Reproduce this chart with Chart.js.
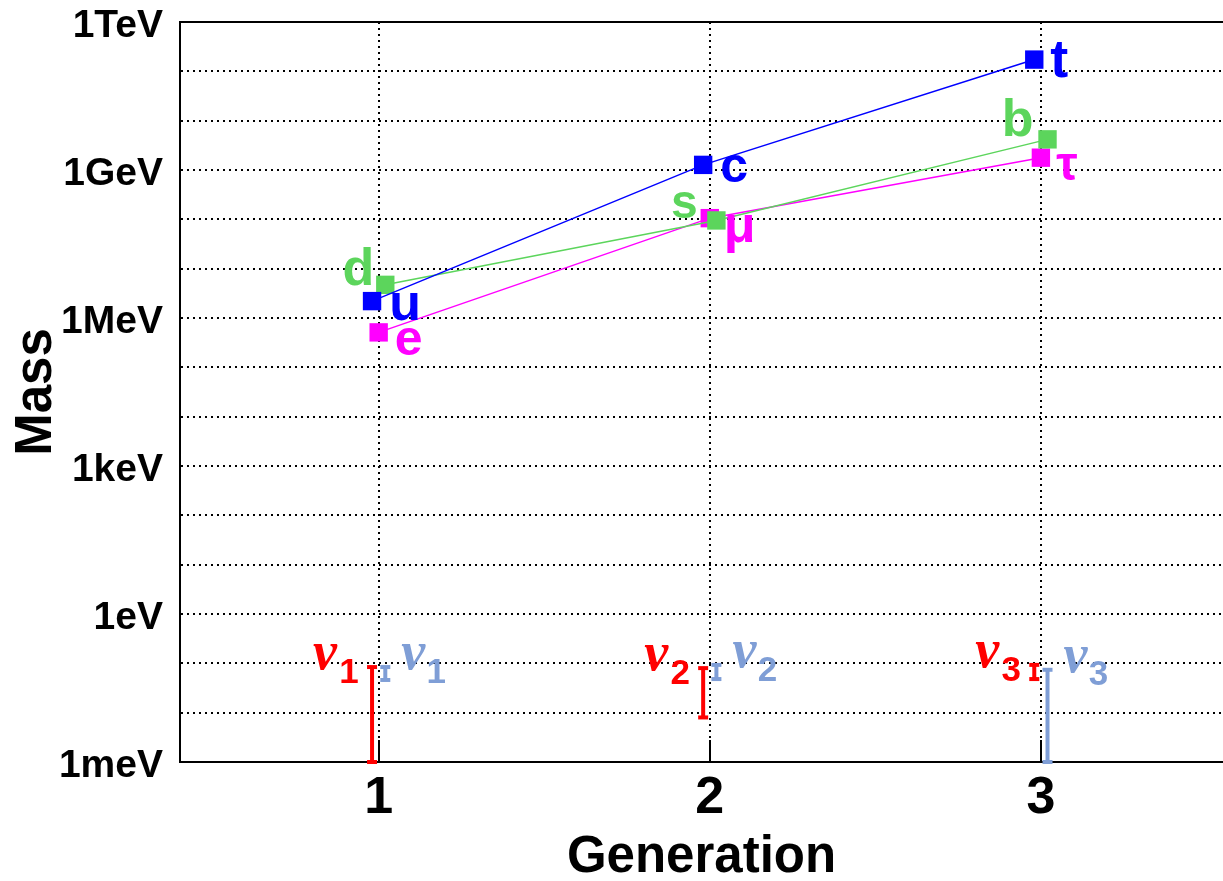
<!DOCTYPE html>
<html>
<head>
<meta charset="utf-8">
<script src="https://cdn.jsdelivr.net/npm/chart.js@4.4.1/dist/chart.umd.min.js"></script>
<style>
  html, body { margin: 0; padding: 0; background: #fff; }
</style>
</head>
<body>
<canvas id="massChart" width="1223" height="881"></canvas>
<script>
// masses in eV
const generations = [1, 2, 3];
const upQuarks = [2.2e6, 1.27e9, 173e9];
const downQuarks = [4.7e6, 95e6, 4.18e9];
const leptons = [0.511e6, 105.7e6, 1.777e9];
const upNames = ['u', 'c', 't'];
const downNames = ['d', 's', 'b'];
const leptonNames = ['e', 'μ', 'τ'];

// neutrino mass ranges (normal / inverted ordering), eV
const nuNormalLow = [0.001, 0.008, 0.048];
const nuNormalHigh = [0.084, 0.08, 0.093];
const nuInvertedLow = [0.046, 0.048, 0.001];
const nuInvertedHigh = [0.084, 0.093, 0.074];

const massTicks = [1e-3, 1e-2, 1e-1, 1e0, 1e1, 1e2, 1e3, 1e4, 1e5, 1e6, 1e7, 1e8, 1e9, 1e10, 1e11, 1e12];
const massTickLabels = ['1meV', '', '', '1eV', '', '', '1keV', '', '', '1MeV', '', '', '1GeV', '', '', '1TeV'];

const BLUE = '#0000ff', GREEN = '#5cd55c', MAGENTA = '#ff00ff', RED = '#ff0000', PALE = '#7f9ed6';
const FONT = "'Liberation Sans', Arial, sans-serif";

// label placement: dx, dy (px from point), font size
const labelStyle = {
  u: [33, 5, 52], c: [31, 3, 50], t: [25, 3, 54],
  d: [-27, -14, 52], s: [-32, -16, 48], b: [-30, -18, 52],
  e: [30, 9, 50], 'μ': [30, 10, 52], 'τ': [26, 9, 48]
};

function series(values, shift) {
  return generations.map((g, i) => ({ x: g + shift, y: values[i] }));
}

function fermionSet(values, names, shift, color) {
  return {
    data: series(values, shift),
    names: names,
    showLine: true,
    borderColor: color,
    backgroundColor: color,
    borderWidth: 1.5,
    pointStyle: 'rect',
    pointRadius: 13,
    pointBorderWidth: 0
  };
}

function nuSet(i, low, high, shift, color, side) {
  return {
    data: [{ x: generations[i] + shift, y: low[i] }, { x: generations[i] + shift, y: high[i] }],
    nu: { sub: String(generations[i]), side: side },
    showLine: true,
    clip: false,
    borderColor: color,
    backgroundColor: color,
    borderWidth: 4,
    pointStyle: 'line',
    pointRadius: 5,
    pointBorderWidth: 4
  };
}

const datasets = [
  fermionSet(upQuarks, upNames, -0.02, BLUE),
  fermionSet(downQuarks, downNames, 0.02, GREEN),
  fermionSet(leptons, leptonNames, 0, MAGENTA)
];
generations.forEach((g, i) => {
  datasets.push(nuSet(i, nuNormalLow, nuNormalHigh, -0.02, RED, -1));
  datasets.push(nuSet(i, nuInvertedLow, nuInvertedHigh, 0.02, PALE, 1));
});

const labelPlugin = {
  id: 'particleLabels',
  afterDatasetsDraw(chart) {
    const { ctx, chartArea } = chart;
    const xs = chart.scales.x, ys = chart.scales.y;
    ctx.save();
    // solid top frame
    ctx.strokeStyle = '#000';
    ctx.lineWidth = 2;
    ctx.beginPath();
    ctx.moveTo(chartArea.left, chartArea.top);
    ctx.lineTo(chartArea.right, chartArea.top);
    ctx.stroke();

    ctx.textAlign = 'center';
    ctx.textBaseline = 'middle';
    chart.data.datasets.forEach(ds => {
      if (ds.names) {
        ds.data.forEach((p, i) => {
          const name = ds.names[i];
          const [dx, dy, size] = labelStyle[name];
          ctx.fillStyle = ds.borderColor;
          ctx.font = 'bold ' + size + 'px ' + FONT;
          ctx.fillText(name, xs.getPixelForValue(p.x) + dx, ys.getPixelForValue(p.y) + dy);
        });
      }
      if (ds.nu) {
        const top = ds.data[1];
        const px = xs.getPixelForValue(top.x);
        const py = ys.getPixelForValue(top.y);
        const s = ds.nu.side;
        ctx.fillStyle = ds.borderColor;
        ctx.font = 'italic bold 54px "Liberation Serif", serif';
        ctx.fillText('ν', px + (s < 0 ? -47 : 28), py - 12);
        ctx.font = 'bold 35px ' + FONT;
        ctx.fillText(ds.nu.sub, px + (s < 0 ? -23 : 51), py + 6);
      }
    });
    ctx.restore();
  }
};

new Chart(document.getElementById('massChart'), {
  type: 'scatter',
  data: { datasets: datasets },
  options: {
    responsive: false,
    animation: false,
    layout: { padding: 0, autoPadding: false },
    plugins: { legend: { display: false }, tooltip: { enabled: false } },
    scales: {
      x: {
        type: 'linear',
        min: 0.4,
        max: 3.55,
        afterBuildTicks: scale => { scale.ticks = generations.map(v => ({ value: v })); },
        afterFit: scale => {
          scale.height = 119;
          scale.paddingLeft = 0;
          scale.paddingRight = 0;
        },
        ticks: {
          color: '#000',
          padding: 27,
          font: { family: FONT, size: 52, weight: 'bold', lineHeight: 1.2 },
          callback: v => String(v)
        },
        grid: { color: '#000', lineWidth: 2, drawTicks: true, tickLength: -22, tickColor: '#000', tickWidth: 2 },
        border: { color: '#000', width: 2, dash: [2, 4] },
        title: {
          display: true,
          text: 'Generation',
          color: '#000',
          padding: { top: 0, bottom: 0 },
          font: { family: FONT, size: 51, weight: 'bold', lineHeight: 0.9 }
        }
      },
      y: {
        type: 'logarithmic',
        min: 1e-3,
        max: 1e12,
        afterBuildTicks: scale => { scale.ticks = massTicks.map(v => ({ value: v })); },
        afterFit: scale => {
          scale.width = 180;
          scale.paddingTop = 22;
          scale.paddingBottom = 0;
        },
        ticks: {
          color: '#000',
          padding: 17,
          labelOffset: 4,
          autoSkip: false,
          font: { family: FONT, size: 39, weight: 'bold', lineHeight: 1.13 },
          callback: (v, i) => massTickLabels[i]
        },
        grid: { color: '#000', lineWidth: 2, drawTicks: false },
        border: { color: '#000', width: 2, dash: [2, 4] },
        title: {
          display: true,
          text: 'Mass',
          color: '#000',
          padding: { top: 11, bottom: 0 },
          font: { family: FONT, size: 51, weight: 'bold', lineHeight: 1 }
        }
      }
    }
  },
  plugins: [labelPlugin]
});
</script>
</body>
</html>
